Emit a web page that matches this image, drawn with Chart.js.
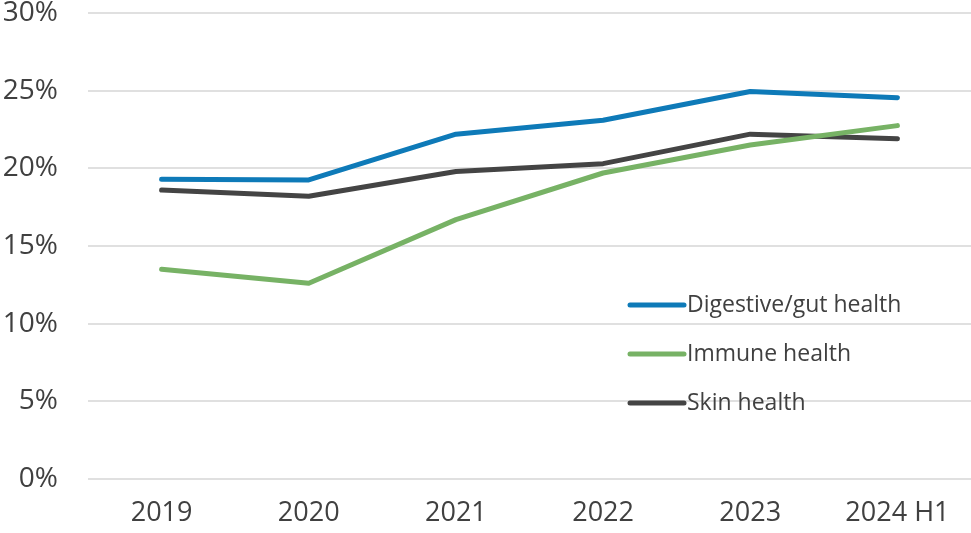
<!DOCTYPE html>
<html>
<head>
<meta charset="utf-8">
<script src="https://cdn.jsdelivr.net/npm/chart.js@4"></script>
<style>
  html, body { margin: 0; padding: 0; background: #fff; }
  #wrap { width: 971px; height: 533px; }
</style>
</head>
<body>
<div id="wrap"><canvas id="trendChart"></canvas></div>
<script>
const years = ["2019", "2020", "2021", "2022", "2023", "2024 H1"];
const digestive = [19.3, 19.25, 22.2, 23.1, 24.95, 24.55];
const immune = [13.5, 12.6, 16.7, 19.7, 21.5, 22.75];
const skin = [18.6, 18.2, 19.8, 20.3, 22.2, 21.9];

const fontName = "'Open Sans', 'Noto Sans', sans-serif";

// legend drawn inside the plot, like the original
const insideLegend = {
  id: "insideLegend",
  afterDraw(chart) {
    const ctx = chart.ctx;
    const x0 = 630, x1 = 684, top = 305, step = 49;
    ctx.save();
    chart.data.datasets.forEach((ds, i) => {
      const y = top + i * step;
      ctx.strokeStyle = ds.borderColor;
      ctx.lineWidth = 5;
      ctx.lineCap = "round";
      ctx.beginPath();
      ctx.moveTo(x0, y);
      ctx.lineTo(x1, y);
      ctx.stroke();
      ctx.fillStyle = "#404040";
      ctx.font = "23px " + fontName;
      ctx.textAlign = "left";
      ctx.textBaseline = "middle";
      ctx.fillText(ds.label, x1 + 3, y);
    });
    ctx.restore();
  },
};

const lineStyle = {
  borderWidth: 5,
  pointRadius: 0,
  tension: 0,
  borderCapStyle: "round",
  borderJoinStyle: "round",
  fill: false,
};

new Chart(document.getElementById("trendChart").getContext("2d"), {
  type: "line",
  data: {
    labels: years,
    datasets: [
      { label: "Digestive/gut health", data: digestive, borderColor: "#0e7ab8", ...lineStyle },
      { label: "Immune health", data: immune, borderColor: "#77b265", ...lineStyle },
      { label: "Skin health", data: skin, borderColor: "#444444", ...lineStyle },
    ],
  },
  options: {
    responsive: true,
    maintainAspectRatio: false,
    animation: false,
    layout: { padding: { top: 13, right: 0, left: 0, bottom: 0 } },
    plugins: {
      legend: { display: false },
      tooltip: { enabled: false },
    },
    scales: {
      x: {
        offset: true,
        grid: { display: false },
        border: { display: false },
        ticks: {
          color: "#404040",
          font: { family: fontName, size: 27 },
          padding: 10,
          maxRotation: 0,
        },
        afterFit(scale) {
          scale.height = 54;
          scale.paddingLeft = 0;
          scale.paddingRight = 0;
        },
      },
      y: {
        min: 0,
        max: 30,
        grid: { color: "#e0e0e0", lineWidth: 2, drawTicks: false },
        border: { display: false },
        ticks: {
          stepSize: 5,
          color: "#404040",
          font: { family: fontName, size: 28 },
          padding: 30,
          callback: (v) => v + "%",
        },
        afterFit(scale) {
          scale.width = 88;
          scale.paddingTop = 0;
          scale.paddingBottom = 0;
        },
      },
    },
  },
  plugins: [insideLegend],
});
</script>
</body>
</html>
